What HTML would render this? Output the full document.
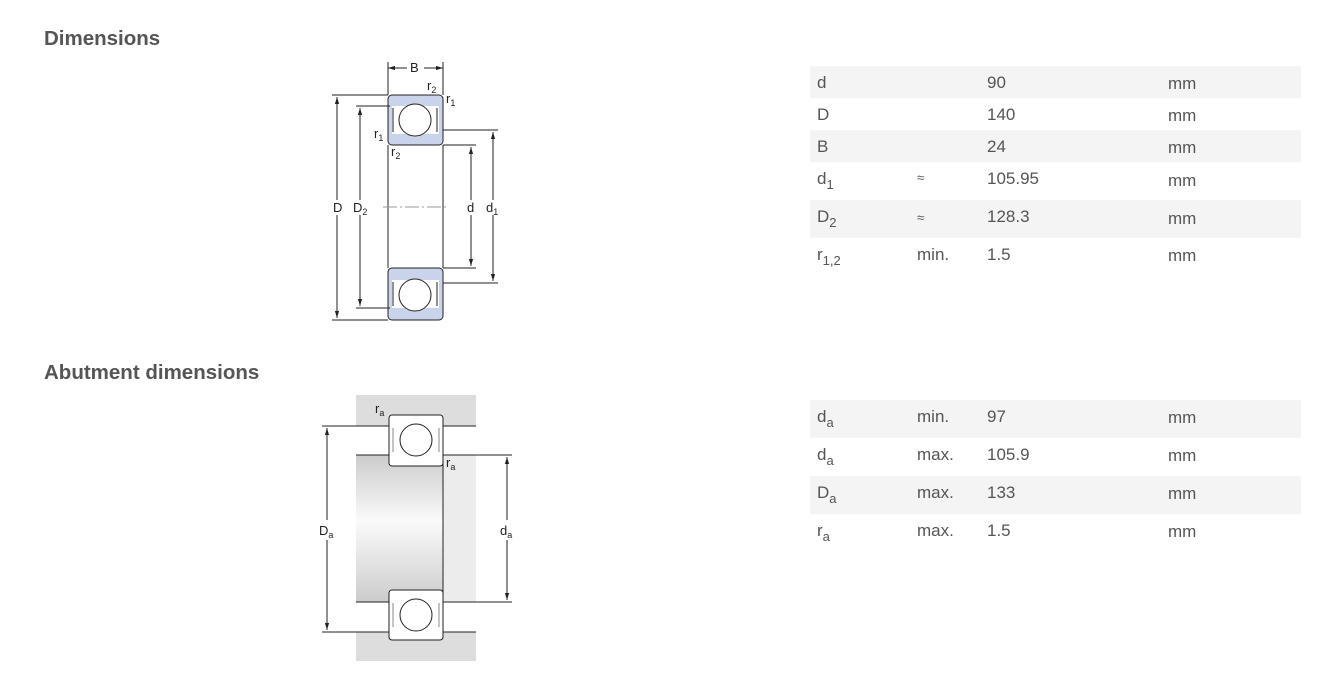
<!DOCTYPE html>
<html><head><meta charset="utf-8"><style>
body{margin:0;width:1341px;height:691px;background:#fff;font-family:"Liberation Sans",Arial,sans-serif;color:#555;position:relative;overflow:hidden}
h2{position:absolute;margin:0;font-size:20.5px;font-weight:bold;color:#555}
.t{position:absolute;left:810px;width:491px}
.r{position:relative;font-size:17px;color:#555}
.r span{position:absolute}
.g{background:#f4f4f4}
sub{font-size:13px;vertical-align:-5px}
svg text{font-family:"Liberation Sans",Arial,sans-serif;font-size:13px;fill:#222}
</style></head><body>
<h2 style="left:44px;top:27px">Dimensions</h2>
<h2 style="left:44px;top:361px">Abutment dimensions</h2>

<div class="t" style="top:66px">
<div class="r g" style="height:32px"><span style="left:7px;top:7px">d</span><span style="left:177px;top:7px">90</span><span style="left:358px;top:8px">mm</span></div>
<div class="r" style="height:32px"><span style="left:7px;top:7px">D</span><span style="left:177px;top:7px">140</span><span style="left:358px;top:8px">mm</span></div>
<div class="r g" style="height:32px"><span style="left:7px;top:7px">B</span><span style="left:177px;top:7px">24</span><span style="left:358px;top:8px">mm</span></div>
<div class="r" style="height:38px"><span style="left:7px;top:7px">d<sub>1</sub></span><span style="left:107px;top:8px;font-size:13px">≈</span><span style="left:177px;top:7px">105.95</span><span style="left:358px;top:9px">mm</span></div>
<div class="r g" style="height:38px"><span style="left:7px;top:7px">D<sub>2</sub></span><span style="left:107px;top:10px;font-size:13px">≈</span><span style="left:177px;top:7px">128.3</span><span style="left:358px;top:9px">mm</span></div>
<div class="r" style="height:38px"><span style="left:7px;top:7px">r<sub>1,2</sub></span><span style="left:107px;top:7px">min.</span><span style="left:177px;top:7px">1.5</span><span style="left:358px;top:8px">mm</span></div>
</div>

<div class="t" style="top:400px">
<div class="r g" style="height:38px"><span style="left:7px;top:7px">d<sub>a</sub></span><span style="left:107px;top:7px">min.</span><span style="left:177px;top:7px">97</span><span style="left:358px;top:8px">mm</span></div>
<div class="r" style="height:38px"><span style="left:7px;top:7px">d<sub>a</sub></span><span style="left:107px;top:7px">max.</span><span style="left:177px;top:7px">105.9</span><span style="left:358px;top:8px">mm</span></div>
<div class="r g" style="height:38px"><span style="left:7px;top:7px">D<sub>a</sub></span><span style="left:107px;top:7px">max.</span><span style="left:177px;top:7px">133</span><span style="left:358px;top:8px">mm</span></div>
<div class="r" style="height:38px"><span style="left:7px;top:7px">r<sub>a</sub></span><span style="left:107px;top:7px">max.</span><span style="left:177px;top:7px">1.5</span><span style="left:358px;top:8px">mm</span></div>
</div>

<svg style="position:absolute;left:0;top:0" width="1341" height="691">
<defs>
<marker id="a" viewBox="0 0 10 10" refX="10" refY="5" markerWidth="7" markerHeight="7" orient="auto-start-reverse"><path d="M0,2L10,5L0,8z" fill="#222"/></marker>
<linearGradient id="sh" x1="0" y1="0" x2="0" y2="1"><stop offset="0" stop-color="#ccc"/><stop offset=".45" stop-color="#fafafa"/><stop offset="1" stop-color="#ccc"/></linearGradient>
</defs>
<g stroke="#222" stroke-width="1" fill="none">
<line x1="388" y1="62" x2="388" y2="95"/><line x1="443" y1="62" x2="443" y2="95"/>
<line x1="388" y1="68" x2="407" y2="68" marker-start="url(#a)"/><line x1="424" y1="68" x2="443" y2="68" marker-end="url(#a)"/>
<rect x="388" y="95" width="55" height="50" rx="4" fill="#c9d3ea"/>
<rect x="388" y="268" width="55" height="52" rx="4" fill="#c9d3ea"/>
<rect x="392" y="106" width="47" height="28" fill="#fff" stroke="none"/>
<rect x="392" y="280" width="47" height="28" fill="#fff" stroke="none"/>
<circle cx="415" cy="120" r="16" fill="#fff"/><circle cx="415" cy="295" r="16" fill="#fff"/>
<path d="M393,108v24M437,108v24M393,282v24M437,282v24"/>
<line x1="388" y1="145" x2="388" y2="268"/><line x1="443" y1="145" x2="443" y2="268"/>
<line x1="332" y1="95" x2="388" y2="95"/><line x1="332" y1="320" x2="388" y2="320"/>
<line x1="337" y1="97" x2="337" y2="200" marker-start="url(#a)"/><line x1="337" y1="215" x2="337" y2="318" marker-end="url(#a)"/>
<line x1="356" y1="106" x2="390" y2="106"/><line x1="356" y1="308" x2="390" y2="308"/>
<line x1="360" y1="108" x2="360" y2="200" marker-start="url(#a)"/><line x1="360" y1="215" x2="360" y2="306" marker-end="url(#a)"/>
<line x1="443" y1="145" x2="476" y2="145"/><line x1="443" y1="268" x2="476" y2="268"/>
<line x1="471" y1="147" x2="471" y2="200" marker-start="url(#a)"/><line x1="471" y1="215" x2="471" y2="266" marker-end="url(#a)"/>
<line x1="443" y1="130" x2="498" y2="130"/><line x1="443" y1="283" x2="498" y2="283"/>
<line x1="493" y1="132" x2="493" y2="200" marker-start="url(#a)"/><line x1="493" y1="215" x2="493" y2="281" marker-end="url(#a)"/>
<line x1="383" y1="207" x2="448" y2="207" stroke="#999" stroke-dasharray="14 3 2 3"/>
</g>
<text x="410" y="72">B</text>
<text x="427" y="90">r<tspan font-size="9" dy="3">2</tspan></text>
<text x="446" y="103">r<tspan font-size="9" dy="3">1</tspan></text>
<text x="374" y="138">r<tspan font-size="9" dy="3">1</tspan></text>
<text x="391" y="156">r<tspan font-size="9" dy="3">2</tspan></text>
<text x="333" y="212">D</text>
<text x="353" y="212">D<tspan font-size="9" dy="3">2</tspan></text>
<text x="467" y="212">d</text>
<text x="486" y="212">d<tspan font-size="9" dy="3">1</tspan></text>

<rect x="356" y="395" width="120" height="266" fill="#ddd"/>
<rect x="356" y="426" width="120" height="29" fill="#fff"/>
<rect x="356" y="602" width="120" height="30" fill="#fff"/>
<rect x="356" y="455" width="87" height="147" fill="url(#sh)"/>
<rect x="443" y="455" width="33" height="147" fill="#ececec"/>
<g stroke="#222" stroke-width="1" fill="none">
<line x1="356" y1="426" x2="476" y2="426"/><line x1="356" y1="455" x2="476" y2="455"/>
<line x1="356" y1="602" x2="476" y2="602"/><line x1="356" y1="632" x2="476" y2="632"/>
<line x1="443" y1="455" x2="443" y2="602"/>
<rect x="389" y="415" width="54" height="51" rx="3" fill="#fff"/>
<rect x="389" y="590" width="54" height="50" rx="3" fill="#fff"/>
<circle cx="416" cy="440" r="16" fill="#fff"/><circle cx="416" cy="615" r="16" fill="#fff"/>
<path d="M393,428v24M439,428v24M393,603v24M439,603v24" stroke="#888"/>
<line x1="322" y1="426" x2="356" y2="426"/><line x1="322" y1="632" x2="356" y2="632"/>
<line x1="327" y1="428" x2="327" y2="520" marker-start="url(#a)"/><line x1="327" y1="540" x2="327" y2="630" marker-end="url(#a)"/>
<line x1="476" y1="455" x2="512" y2="455"/><line x1="476" y1="602" x2="512" y2="602"/>
<line x1="507" y1="457" x2="507" y2="520" marker-start="url(#a)"/><line x1="507" y1="540" x2="507" y2="600" marker-end="url(#a)"/>
</g>
<text x="375" y="413">r<tspan font-size="9" dy="3">a</tspan></text>
<text x="446" y="467">r<tspan font-size="9" dy="3">a</tspan></text>
<text x="319" y="535">D<tspan font-size="9" dy="3">a</tspan></text>
<text x="500" y="535">d<tspan font-size="9" dy="3">a</tspan></text>
</svg>
</body></html>
